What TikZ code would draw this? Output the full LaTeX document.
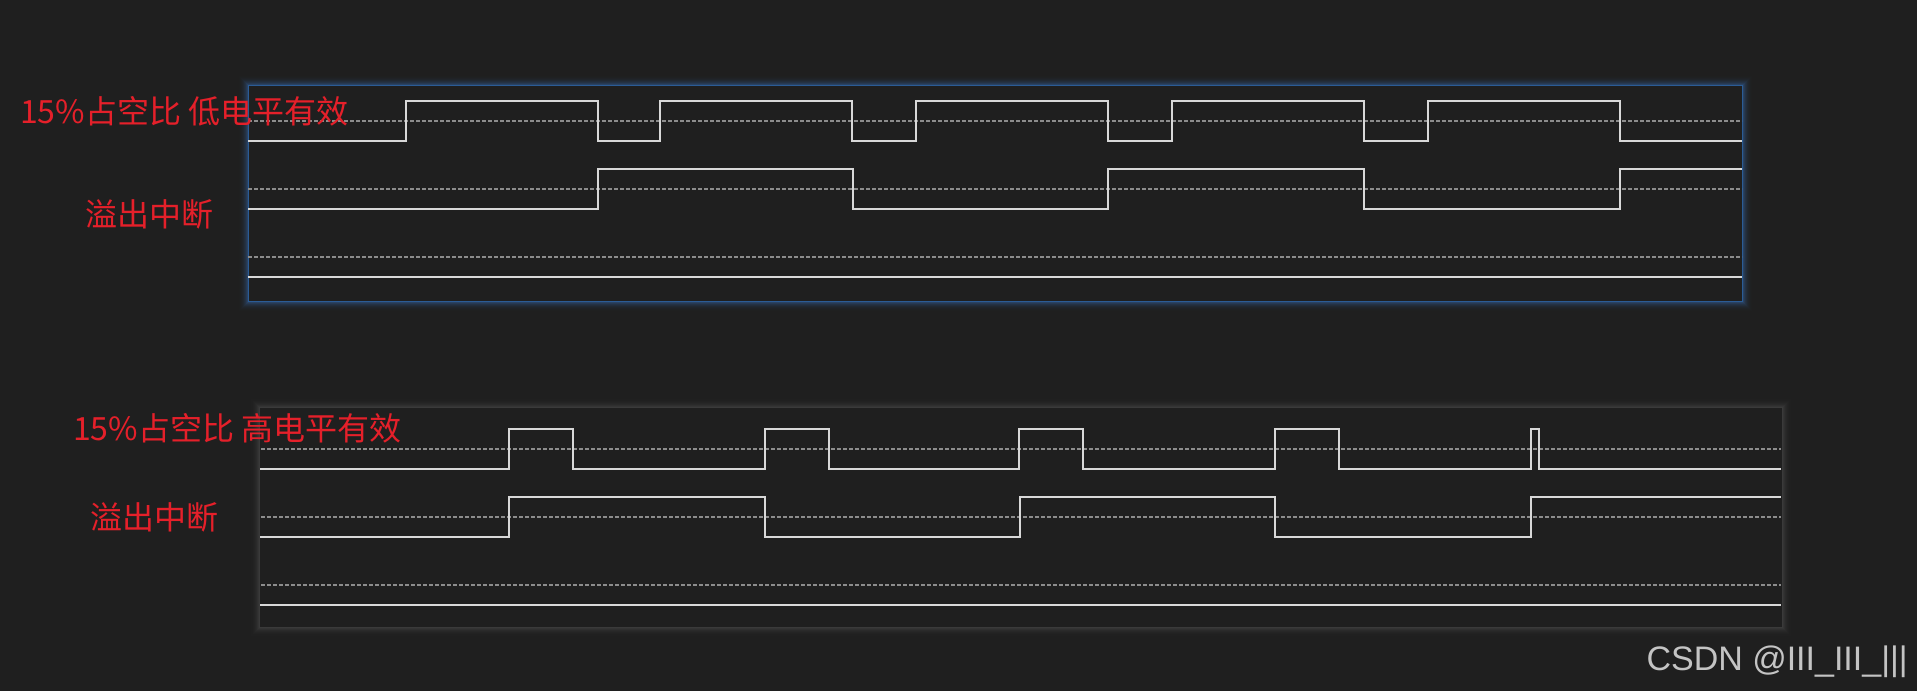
\documentclass[tikz,border=0pt]{standalone}
\usepackage{fontspec}
\newfontfamily\cjk{Noto Sans CJK SC}
\newfontfamily\wmfont{Liberation Sans}
\definecolor{bgc}{HTML}{1F1F1F}
\definecolor{sigc}{HTML}{D8D8D8}
\definecolor{refc}{HTML}{8C8C8C}
\definecolor{labc}{HTML}{E5202A}
\definecolor{glowb}{HTML}{3A78C8}
\definecolor{edgeb}{HTML}{2B5C96}
\definecolor{glowg}{HTML}{7A7A7A}
\definecolor{wmc}{HTML}{C4C4C4}
\begin{document}
\begin{tikzpicture}[x=1pt,y=-1pt,
  sig/.style={draw=sigc,line width=1.7pt,line join=miter},
  refline/.style={draw=refc,line width=1.6pt,dash pattern=on 3.5pt off 2.5pt},
  lbl/.style={text=labc,font=\cjk\fontsize{32}{36}\selectfont,inner sep=0pt,anchor=west},
  wm/.style={text=wmc,font=\wmfont\fontsize{34}{38}\selectfont,inner sep=0pt,anchor=east}]
\useasboundingbox (0,0) rectangle (1917,691);
\fill[bgc] (0,0) rectangle (1917,691);
% ---------- panel 1 glow ----------
\foreach \i/\o in {1/0.40,2/0.30,3/0.22,4/0.16,5/0.11,6/0.07,7/0.045,8/0.025,9/0.012}
  \draw[glowb,line width=1pt,draw opacity=\o] ({248-\i},{85-\i}) rectangle ({1742+\i},{301+\i});
\fill[bgc] (248,85) rectangle (1742,301);
\draw[edgeb,line width=1pt] (248,85) rectangle (1742,301);
% ---------- panel 2 glow ----------
\foreach \i/\o in {1/0.30,2/0.24,3/0.18,4/0.13,5/0.09,6/0.06,7/0.04,8/0.02,9/0.01}
  \draw[glowg,line width=1pt,draw opacity=\o] ({260-\i},{408-\i}) rectangle ({1781+\i},{626+\i});
\fill[bgc] (260,408) rectangle (1781,626);
% ---------- panel 1 reference lines ----------
\foreach \y in {121,188.7,257}
  \draw[refline] (248,\y) -- (1742,\y);
% ---------- panel 1 signals ----------
\draw[sig] (248,140.7) -- (406,140.7) -- (406,100.7) -- (598,100.7) -- (598,140.7)
  -- (660,140.7) -- (660,100.7) -- (852,100.7) -- (852,140.7) -- (916,140.7)
  -- (916,100.7) -- (1108,100.7) -- (1108,140.7) -- (1172,140.7) -- (1172,100.7)
  -- (1364,100.7) -- (1364,140.7) -- (1428,140.7) -- (1428,100.7) -- (1620,100.7)
  -- (1620,140.7) -- (1742,140.7);
\draw[sig] (248,209) -- (598,209) -- (598,168.7) -- (853,168.7) -- (853,209)
  -- (1108,209) -- (1108,168.7) -- (1364,168.7) -- (1364,209) -- (1620,209)
  -- (1620,168.7) -- (1742,168.7);
\draw[sig] (248,277) -- (1742,277);
% ---------- panel 2 reference lines ----------
\foreach \y in {449,516.7,584.7}
  \draw[refline] (261,\y) -- (1781,\y);
% ---------- panel 2 signals ----------
\draw[sig] (260,469) -- (509,469) -- (509,429) -- (573,429) -- (573,469)
  -- (765,469) -- (765,429) -- (829,429) -- (829,469) -- (1019,469)
  -- (1019,429) -- (1083,429) -- (1083,469) -- (1275,469) -- (1275,429)
  -- (1339,429) -- (1339,469) -- (1531,469) -- (1531,429) -- (1539,429)
  -- (1539,469) -- (1781,469);
\draw[sig] (260,536.7) -- (509,536.7) -- (509,497) -- (765,497) -- (765,536.7)
  -- (1020,536.7) -- (1020,497) -- (1275,497) -- (1275,536.7) -- (1531,536.7)
  -- (1531,497) -- (1781,497);
\draw[sig] (260,605) -- (1781,605);
% ---------- labels ----------
\node[lbl] (l1a) at (20,111) {15\%占空比 低电平有效};
\node[lbl] (l1b) at (85,214) {溢出中断};
\node[lbl] (l2a) at (73,428) {15\%占空比 高电平有效};
\node[lbl] (l2b) at (90,517) {溢出中断};
\node[wm] (wmk) at (1908,662) {CSDN @III\_III\_|||};
\end{tikzpicture}
\end{document}
